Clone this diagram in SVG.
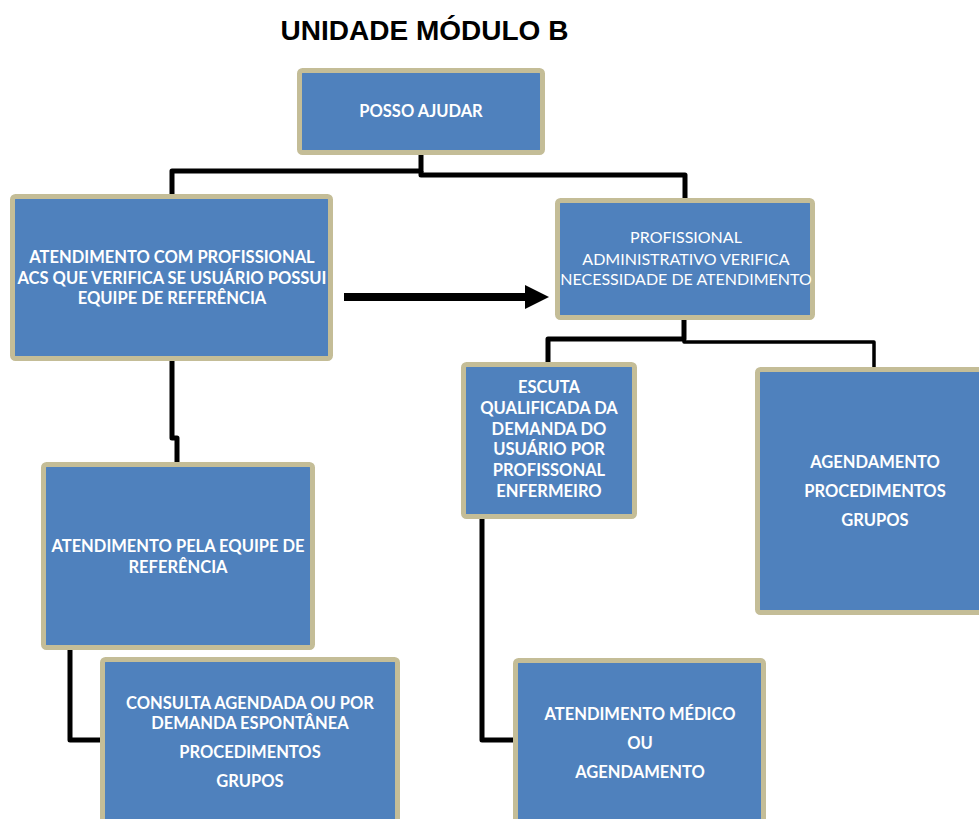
<svg xmlns="http://www.w3.org/2000/svg" width="979" height="819" viewBox="0 0 979 819">
<style>
.box{fill:#4F81BD;stroke:#C4BD97;stroke-width:5}
.t{font-family:Lato,"Open Sans","Liberation Sans",sans-serif;font-size:16.5px;font-weight:bold;fill:#FFFFFF;text-anchor:middle}
.r{font-weight:normal;font-size:16px}
.c{fill:none;stroke:#000000;stroke-width:5;stroke-linejoin:round}
.title{font-family:"Liberation Sans",Arial,sans-serif;font-size:28px;font-weight:bold;fill:#000000;text-anchor:middle}
</style>
<rect width="979" height="819" fill="#FFFFFF"/>
<text class="title" x="424.5" y="40">UNIDADE MÓDULO B</text>
<g id="connectors">
<polyline class="c" points="421,155 421,171 172,171 172,196"/>
<polyline class="c" points="421,171 421,175 685,175 685,200"/>
<polyline class="c" points="172,359 172,438 177,438 177,464"/>
<line x1="344" y1="297" x2="527" y2="297" stroke="#000000" stroke-width="8"/>
<polygon points="525,285 549,297 525,309" fill="#000000"/>
<polyline class="c" points="684,318 684,339 548,339 548,364"/>
<polyline class="c" points="684,339 684,342 874,342 874,369" style="stroke-width:3.5"/>
<polyline class="c" points="70,648 70,740 102,740"/>
<polyline class="c" points="482,517 482,740 515,740"/>
</g>
<g id="posso-ajudar">
<rect class="box" x="299.5" y="70.5" width="243" height="82" rx="3"/>
<text class="t" x="421" y="117">POSSO AJUDAR</text>
</g>
<g id="atendimento-acs">
<rect class="box" x="12.5" y="196.5" width="318" height="162" rx="3"/>
<text class="t" x="172" y="263">ATENDIMENTO COM PROFISSIONAL</text>
<text class="t" x="172" y="283.5">ACS QUE VERIFICA SE USUÁRIO POSSUI</text>
<text class="t" x="172" y="304">EQUIPE DE REFERÊNCIA</text>
</g>
<g id="profissional-administrativo">
<rect class="box" x="557.5" y="200.5" width="255" height="117" rx="3"/>
<text class="t r" x="686" y="243">PROFISSIONAL</text>
<text class="t r" x="686" y="264.5">ADMINISTRATIVO VERIFICA</text>
<text class="t r" x="686" y="285">NECESSIDADE DE ATENDIMENTO</text>
</g>
<g id="escuta">
<rect class="box" x="463.5" y="364.5" width="171" height="152" rx="3"/>
<text class="t" x="549" y="393">ESCUTA</text>
<text class="t" x="549" y="414">QUALIFICADA DA</text>
<text class="t" x="549" y="434.5">DEMANDA DO</text>
<text class="t" x="549" y="455">USUÁRIO POR</text>
<text class="t" x="549" y="476">PROFISSONAL</text>
<text class="t" x="549" y="497">ENFERMEIRO</text>
</g>
<g id="agendamento">
<rect class="box" x="757.5" y="369.5" width="235" height="243" rx="3"/>
<text class="t" x="875" y="468">AGENDAMENTO</text>
<text class="t" x="875" y="497">PROCEDIMENTOS</text>
<text class="t" x="875" y="526">GRUPOS</text>
</g>
<g id="atendimento-equipe">
<rect class="box" x="43.5" y="464.5" width="269" height="183" rx="3"/>
<text class="t" x="178" y="552">ATENDIMENTO PELA EQUIPE DE</text>
<text class="t" x="178" y="572.5">REFERÊNCIA</text>
</g>
<g id="consulta">
<rect class="box" x="102.5" y="659.5" width="295" height="200" rx="3"/>
<text class="t" x="250" y="709">CONSULTA AGENDADA OU POR</text>
<text class="t" x="250" y="729">DEMANDA ESPONTÂNEA</text>
<text class="t" x="250" y="758">PROCEDIMENTOS</text>
<text class="t" x="250" y="787">GRUPOS</text>
</g>
<g id="atendimento-medico">
<rect class="box" x="515.5" y="660.5" width="248" height="200" rx="3"/>
<text class="t" x="640" y="720">ATENDIMENTO MÉDICO</text>
<text class="t" x="640" y="749">OU</text>
<text class="t" x="640" y="778">AGENDAMENTO</text>
</g>
</svg>
